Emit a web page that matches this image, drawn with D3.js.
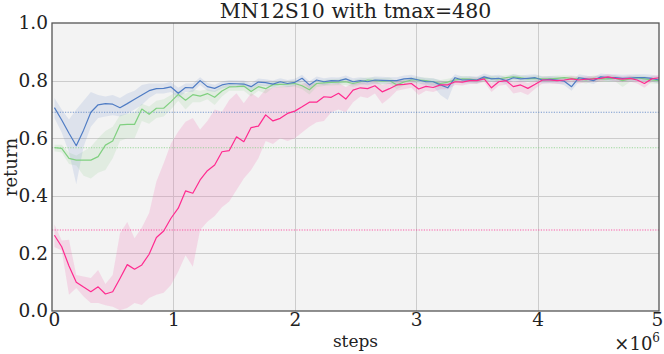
<!DOCTYPE html>
<html>
<head>
<meta charset="utf-8">
<script src="https://cdn.jsdelivr.net/npm/d3@7"></script>
<style>
  html, body { margin: 0; padding: 0; background: #ffffff; }
  svg { display: block; }
</style>
</head>
<body>
<svg id="chart" width="664" height="354"></svg>
<script>
// ---------- data ----------
const title = "MN12S10 with tmax=480";
const xLabel = "steps";
const yLabel = "return";
const xTicks = [0, 1, 2, 3, 4, 5];           // in units of 1e6 steps
const yTicks = [0.0, 0.2, 0.4, 0.6, 0.8, 1.0];
const firstStep = 0.02;   // first evaluation (x1e6 steps)
const stepSize = 0.06;    // evaluation interval (x1e6 steps)

const pinkMean = [0.263,0.223,0.156,0.100,0.083,0.067,0.084,0.059,0.067,0.113,
0.161,0.145,0.160,0.197,0.255,0.278,0.322,0.357,0.417,0.409,
0.455,0.487,0.507,0.553,0.557,0.605,0.588,0.637,0.642,0.681,
0.660,0.669,0.686,0.694,0.709,0.725,0.725,0.744,0.742,0.756,
0.736,0.767,0.775,0.772,0.782,0.761,0.772,0.785,0.787,0.790,
0.771,0.780,0.776,0.785,0.785,0.796,0.795,0.800,0.800,0.806,
0.775,0.796,0.800,0.779,0.785,0.773,0.787,0.802,0.802,0.800,
0.802,0.806,0.802,0.805,0.806,0.808,0.813,0.808,0.805,0.808,
0.802,0.790,0.806,0.810];
const pinkUpper = [0.300,0.245,0.247,0.125,0.120,0.115,0.142,0.094,0.125,0.270,
0.309,0.253,0.290,0.340,0.450,0.513,0.582,0.623,0.657,0.670,
0.630,0.660,0.700,0.692,0.733,0.756,0.721,0.756,0.740,0.770,
0.775,0.780,0.780,0.785,0.790,0.792,0.790,0.790,0.788,0.792,
0.778,0.792,0.796,0.792,0.800,0.785,0.792,0.800,0.802,0.804,
0.790,0.795,0.792,0.798,0.798,0.806,0.806,0.810,0.810,0.815,
0.792,0.808,0.812,0.795,0.800,0.792,0.800,0.812,0.812,0.810,
0.812,0.816,0.812,0.815,0.816,0.818,0.822,0.818,0.815,0.818,
0.812,0.805,0.816,0.820];
const pinkLower = [0.222,0.210,0.056,0.080,0.050,0.028,0.028,0.020,0.015,0.003,
0.010,0.028,0.021,0.045,0.056,0.063,0.090,0.137,0.194,0.154,
0.281,0.310,0.330,0.360,0.380,0.420,0.460,0.490,0.530,0.590,
0.580,0.600,0.590,0.600,0.620,0.640,0.655,0.660,0.690,0.700,
0.690,0.725,0.745,0.740,0.755,0.720,0.740,0.765,0.770,0.775,
0.750,0.765,0.760,0.770,0.770,0.785,0.783,0.788,0.788,0.795,
0.760,0.782,0.786,0.755,0.760,0.750,0.772,0.790,0.790,0.788,
0.790,0.795,0.790,0.794,0.795,0.797,0.802,0.797,0.794,0.797,
0.790,0.775,0.795,0.800];

const greenMean = [0.567,0.565,0.530,0.524,0.524,0.524,0.536,0.576,0.590,0.646,
0.648,0.648,0.701,0.683,0.704,0.704,0.727,0.752,0.732,0.751,
0.746,0.755,0.742,0.764,0.778,0.779,0.781,0.762,0.779,0.772,
0.786,0.787,0.788,0.790,0.782,0.768,0.790,0.792,0.794,0.795,
0.796,0.790,0.796,0.802,0.800,0.798,0.800,0.785,0.795,0.802,
0.802,0.800,0.796,0.790,0.795,0.802,0.806,0.805,0.802,0.808,
0.808,0.806,0.810,0.813,0.810,0.806,0.808,0.806,0.806,0.808,
0.810,0.808,0.805,0.802,0.808,0.806,0.806,0.808,0.800,0.806,
0.810,0.806,0.802,0.800];
const greenUpper = [0.577,0.577,0.550,0.540,0.555,0.570,0.600,0.625,0.640,0.680,
0.685,0.690,0.720,0.710,0.730,0.735,0.750,0.765,0.755,0.770,
0.765,0.770,0.765,0.780,0.790,0.790,0.795,0.780,0.790,0.785,
0.797,0.798,0.799,0.801,0.794,0.782,0.801,0.803,0.805,0.806,
0.807,0.802,0.807,0.812,0.811,0.809,0.811,0.798,0.806,0.812,
0.812,0.811,0.807,0.802,0.806,0.812,0.816,0.815,0.812,0.817,
0.817,0.816,0.819,0.822,0.819,0.816,0.818,0.816,0.816,0.818,
0.819,0.818,0.815,0.812,0.818,0.816,0.816,0.818,0.810,0.816,
0.819,0.816,0.812,0.810];
const greenLower = [0.555,0.550,0.510,0.505,0.470,0.460,0.480,0.490,0.530,0.590,
0.600,0.600,0.660,0.650,0.670,0.675,0.700,0.730,0.700,0.725,
0.725,0.735,0.715,0.745,0.765,0.765,0.765,0.745,0.765,0.755,
0.775,0.776,0.777,0.779,0.770,0.752,0.778,0.781,0.783,0.784,
0.785,0.778,0.785,0.791,0.789,0.786,0.789,0.770,0.783,0.791,
0.791,0.789,0.784,0.776,0.783,0.791,0.795,0.794,0.791,0.797,
0.797,0.795,0.800,0.803,0.800,0.795,0.797,0.795,0.795,0.797,
0.800,0.797,0.794,0.790,0.797,0.795,0.795,0.797,0.778,0.795,
0.800,0.795,0.790,0.788];

const blueMean = [0.706,0.663,0.617,0.574,0.628,0.690,0.716,0.720,0.718,0.706,
0.720,0.735,0.750,0.765,0.772,0.773,0.778,0.756,0.776,0.775,
0.800,0.779,0.773,0.785,0.790,0.789,0.788,0.779,0.795,0.793,
0.788,0.796,0.790,0.794,0.808,0.785,0.802,0.796,0.800,0.799,
0.806,0.796,0.800,0.796,0.802,0.801,0.800,0.800,0.806,0.808,
0.802,0.796,0.796,0.785,0.775,0.810,0.802,0.803,0.802,0.813,
0.806,0.808,0.800,0.810,0.806,0.808,0.810,0.802,0.804,0.802,
0.798,0.779,0.810,0.806,0.800,0.813,0.810,0.810,0.808,0.809,
0.810,0.810,0.808,0.802];
const blueUpper = [0.740,0.700,0.665,0.700,0.730,0.760,0.750,0.745,0.750,0.740,
0.755,0.765,0.785,0.790,0.790,0.790,0.795,0.775,0.790,0.790,
0.812,0.792,0.786,0.797,0.802,0.801,0.800,0.792,0.807,0.805,
0.800,0.808,0.802,0.806,0.820,0.798,0.814,0.808,0.812,0.811,
0.818,0.808,0.812,0.808,0.814,0.813,0.812,0.812,0.818,0.820,
0.814,0.808,0.808,0.800,0.795,0.822,0.814,0.815,0.814,0.825,
0.818,0.820,0.812,0.822,0.818,0.820,0.822,0.814,0.816,0.814,
0.812,0.795,0.822,0.818,0.812,0.825,0.822,0.822,0.820,0.821,
0.822,0.822,0.820,0.814];
const blueLower = [0.670,0.620,0.550,0.440,0.570,0.640,0.670,0.675,0.680,0.675,
0.685,0.700,0.715,0.740,0.755,0.755,0.760,0.740,0.760,0.760,
0.785,0.765,0.760,0.773,0.778,0.777,0.776,0.766,0.783,0.781,
0.776,0.784,0.778,0.782,0.795,0.772,0.790,0.784,0.788,0.787,
0.794,0.784,0.788,0.784,0.790,0.789,0.788,0.788,0.794,0.796,
0.790,0.784,0.780,0.750,0.733,0.797,0.790,0.791,0.790,0.801,
0.794,0.796,0.788,0.798,0.794,0.796,0.798,0.790,0.792,0.790,
0.784,0.765,0.797,0.794,0.788,0.801,0.798,0.798,0.796,0.797,
0.798,0.798,0.796,0.790];

const baselineBlue = 0.690;
const baselineGreen = 0.567;
const baselinePink = 0.281;

// ---------- layout ----------
const W = 664, H = 354;
const m = { left: 52, right: 5, top: 23, bottom: 43 };
const pw = W - m.left - m.right, ph = H - m.top - m.bottom;
const FONT = '"DejaVu Serif", "Liberation Serif", "Times New Roman", serif';

const svg = d3.select("#chart");
const x = d3.scaleLinear().domain([0, 5]).range([m.left, m.left + pw]);
const y = d3.scaleLinear().domain([0, 1]).range([m.top + ph, m.top]);

const steps = blueMean.map((_, i) => firstStep + i * stepSize);

// plot background
svg.append("rect").attr("x", m.left).attr("y", m.top).attr("width", pw).attr("height", ph)
  .attr("fill", "#f3f3f3");

// grid
const grid = svg.append("g").attr("stroke", "#cccccc").attr("stroke-width", 1);
grid.selectAll("line.gx").data(xTicks.slice(1, -1)).join("line")
  .attr("x1", d => Math.round(x(d)) + 0.5).attr("x2", d => Math.round(x(d)) + 0.5)
  .attr("y1", m.top).attr("y2", m.top + ph);
grid.selectAll("line.gy").data(yTicks.slice(1, -1)).join("line")
  .attr("y1", d => Math.round(y(d)) + 0.5).attr("y2", d => Math.round(y(d)) + 0.5)
  .attr("x1", m.left).attr("x2", m.left + pw);

const series = [
  { mean: pinkMean, lo: pinkLower, hi: pinkUpper, color: "#ff2a8f", band: "rgba(240,120,180,0.22)", base: baselinePink },
  { mean: greenMean, lo: greenLower, hi: greenUpper, color: "#80d080", band: "rgba(120,200,120,0.14)", base: baselineGreen },
  { mean: blueMean, lo: blueLower, hi: blueUpper, color: "#4f7cc4", band: "rgba(90,130,200,0.14)", base: baselineBlue },
];

const area = d3.area().x((d, i) => x(steps[i])).y0(d => y(d[0])).y1(d => y(d[1]));
const line = d3.line().x((d, i) => x(steps[i])).y(d => y(d));

// bands
series.forEach(s => {
  svg.append("path").datum(s.lo.map((v, i) => [v, s.hi[i]]))
    .attr("d", area).attr("fill", s.band).attr("stroke", "none");
});

// baselines (dotted)
series.forEach(s => {
  svg.append("line")
    .attr("x1", m.left).attr("x2", m.left + pw)
    .attr("y1", y(s.base)).attr("y2", y(s.base))
    .attr("stroke", s.color).attr("stroke-width", 1.1)
    .attr("stroke-dasharray", "1.2,1.4").attr("opacity", 0.75);
});

// lines
[series[1], series[2], series[0]].forEach(s => {
  svg.append("path").datum(s.mean)
    .attr("d", line).attr("fill", "none")
    .attr("stroke", s.color).attr("stroke-width", 1.2)
    .attr("stroke-linejoin", "round");
});

// frame
svg.append("rect").attr("x", m.left).attr("y", m.top).attr("width", pw).attr("height", ph)
  .attr("fill", "none").attr("stroke", "#555").attr("stroke-width", 1.3);

// axes
const yAxis = svg.append("g").attr("transform", `translate(${m.left},0)`)
  .call(d3.axisLeft(y).tickValues(yTicks).tickSize(0).tickPadding(4).tickFormat(d3.format(".1f")));
const xAxis = svg.append("g").attr("transform", `translate(0,${m.top + ph})`)
  .call(d3.axisBottom(x).tickValues(xTicks).tickSize(0).tickPadding(2).tickFormat(d3.format("d")));
[yAxis, xAxis].forEach(a => {
  a.select(".domain").remove();
  a.attr("font-family", FONT).attr("font-size", 18.5);
  a.selectAll("text").attr("fill", "#222");
});
yAxis.selectAll("text").attr("dy", "0.32em");
xAxis.selectAll("text").filter(d => d === 5).attr("dx", -2);
xAxis.selectAll("text").filter(d => d === 0).attr("dx", 2);

function label(sel) {
  return sel.attr("font-family", FONT).attr("fill", "#222");
}
// title
label(svg.append("text")).attr("x", m.left + pw / 2).attr("y", 18).attr("text-anchor", "middle")
  .attr("font-size", 20.5).text(title);
// x label
label(svg.append("text")).attr("x", m.left + pw / 2).attr("y", 347).attr("text-anchor", "middle")
  .attr("font-size", 17).text(xLabel);
// y label
label(svg.append("text")).attr("transform", `translate(17,${m.top + ph / 2}) rotate(-90)`)
  .attr("text-anchor", "middle").attr("font-size", 18).text(yLabel);
// offset text
const off = label(svg.append("text")).attr("x", 660).attr("y", 350).attr("text-anchor", "end").attr("font-size", 18);
off.append("tspan").text("\u00d710");
off.append("tspan").attr("dy", -8).attr("font-size", 12).text("6");
</script>
</body>
</html>
